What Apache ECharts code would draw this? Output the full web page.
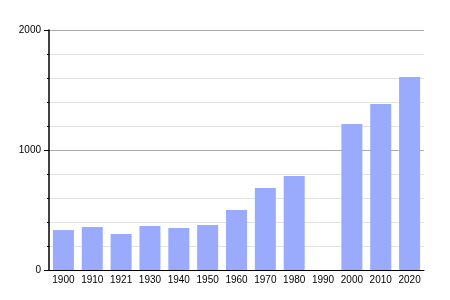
<!DOCTYPE html>
<html><head><meta charset="utf-8">
<script src="https://cdn.jsdelivr.net/npm/echarts@6/dist/echarts.min.js"></script>
<style>html,body{margin:0;padding:0;background:#fff}#c{width:450px;height:300px}</style>
</head><body><div id="c"></div>
<script>
var years = ['1900','1910','1921','1930','1940','1950','1960','1970','1980','1990','2000','2010','2020'];
var population = [333, 358, 300, 367, 350, 375, 500, 683, 783, null, 1217, 1383, 1608];
var yTicks = [0, 1000, 2000];

var chart = echarts.init(document.getElementById('c'), null, {renderer:'canvas'});
chart.setOption({
  animation: false,
  grid: {left: 49, right: 26, top: 30, bottom: 30, containLabel: false},
  xAxis: {
    type: 'category', data: years,
    axisLine: {lineStyle: {color: '#000', width: 1}},
    axisTick: {show: false},
    axisLabel: {color: '#000', fontSize: 10, fontFamily: 'Liberation Sans, Arial', margin: 5,
      interval: 0, hideOverlap: false}
  },
  yAxis: {
    type: 'value', min: yTicks[0], max: yTicks[yTicks.length-1], interval: 1000,
    axisLine: {show: true, onZero: false, lineStyle: {color: '#000', width: 1.5}},
    axisTick: {show: true, length: 5, lineStyle: {color: '#000'}},
    minorTick: {show: true, splitNumber: 5, length: 2, lineStyle: {color: '#000'}},
    splitLine: {show: true, lineStyle: {color: '#aaaaaa', width: 1}},
    minorSplitLine: {show: true, lineStyle: {color: '#e2e2e2', width: 1}},
    axisLabel: {color: '#000', fontSize: 10, fontFamily: 'Liberation Sans, Arial', margin: 8,
      formatter: function (v) { return String(v); }}
  },
  series: [{
    type: 'bar', data: population, barWidth: 21,
    itemStyle: {color: '#9aabfd'}
  }]
});
</script></body></html>
